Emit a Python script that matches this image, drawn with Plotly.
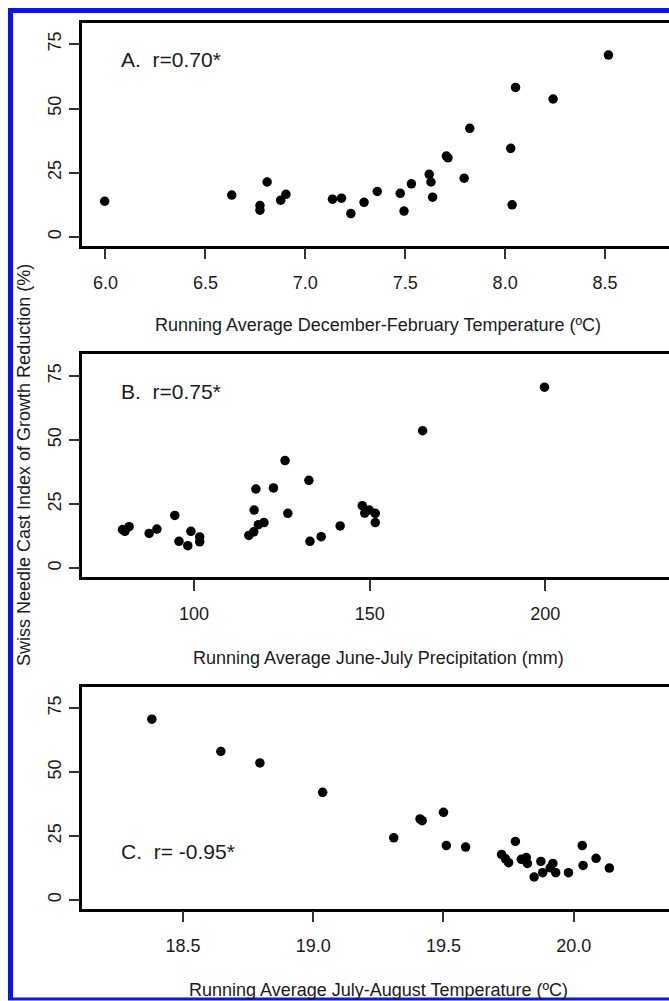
import plotly.graph_objects as go

W, H = 669, 1001

# ---------------- data ----------------
# Panel A: running average December-February temperature (C) vs SNC index (%)
a_temp = [5.996, 6.632, 6.809, 6.773, 6.773, 6.877, 6.903, 7.136, 7.181, 7.228,
          7.294, 7.360, 7.475, 7.494, 7.531, 7.620, 7.629, 7.637, 7.706, 7.714,
          7.795, 7.823, 8.028, 8.035, 8.052, 8.240, 8.517]
a_snc = [13.9, 16.3, 21.4, 12.2, 10.4, 14.3, 16.6, 14.7, 15.1, 9.1,
         13.5, 17.7, 17.0, 10.1, 20.7, 24.4, 21.4, 15.5, 31.5, 30.8,
         22.9, 42.3, 34.5, 12.5, 58.2, 53.7, 70.8]

# Panel B: running average June-July precipitation (mm) vs SNC index (%)
b_prec = [79.6, 80.3, 81.5, 87.2, 89.4, 94.5, 95.7, 98.2, 99.1, 101.6,
          101.6, 115.6, 117.0, 117.1, 117.6, 118.3, 119.9, 122.6, 125.9, 126.7,
          132.7, 133.0, 136.2, 141.6, 147.9, 148.6, 149.9, 151.6, 151.6, 165.1,
          199.8]
b_snc = [15.1, 14.4, 16.2, 13.6, 15.3, 20.6, 10.5, 8.8, 14.4, 12.2,
         10.3, 12.8, 14.2, 22.7, 30.9, 17.0, 17.8, 31.3, 42.0, 21.4,
         34.3, 10.5, 12.3, 16.5, 24.4, 21.5, 22.7, 21.4, 17.8, 53.6,
         70.6]

# Panel C: running average July-August temperature (C) vs SNC index (%)
c_temp = [18.380, 18.645, 18.795, 19.036, 19.309, 19.410, 19.418, 19.500, 19.511, 19.585,
          19.723, 19.738, 19.750, 19.776, 19.799, 19.818, 19.822, 19.848, 19.874, 19.881,
          19.910, 19.920, 19.931, 19.980, 20.033, 20.036, 20.086, 20.137]
c_snc = [70.7, 58.1, 53.6, 42.1, 24.3, 31.7, 31.0, 34.3, 21.3, 20.7,
         17.8, 16.1, 14.6, 22.9, 15.9, 16.6, 14.3, 9.0, 15.1, 10.7,
         12.6, 14.3, 10.7, 10.7, 21.3, 13.5, 16.3, 12.5]

y_ticks = [0, 25, 50, 75]
a_xticks = [6.0, 6.5, 7.0, 7.5, 8.0, 8.5]
a_xticklabels = ["6.0", "6.5", "7.0", "7.5", "8.0", "8.5"]
b_xticks = [100, 150, 200]
b_xticklabels = ["100", "150", "200"]
c_xticks = [18.5, 19.0, 19.5, 20.0]
c_xticklabels = ["18.5", "19.0", "19.5", "20.0"]

panel_labels = ["A.\u00a0 r=0.70*", "B.\u00a0 r=0.75*", "C.\u00a0 r= -0.95*"]
x_titles = ["Running Average December-February Temperature (\u00baC)",
            "Running Average June-July Precipitation (mm)",
            "Running Average July-August Temperature (\u00baC)"]
y_title = "Swiss Needle Cast Index of Growth Reduction (%)"

# ---------------- layout helpers ----------------
FONT = "Liberation Sans, Arial, Helvetica, sans-serif"
TXT = "#1a1a1a"

def px_x(p):
    return p / W

def px_y(p):
    return 1 - p / H

box_left = 82.3
# (top, bottom) pixel rows of each panel box
boxes = [(22.7, 245.7), (354.3, 577.0), (686.7, 908.7)]
x_ranges = [[5.884, 8.820], [68.16, 235.26], [18.113, 20.366]]
y_range = [-3.4, 83.4]

fig = go.Figure()

series = [(a_temp, a_snc), (b_prec, b_snc), (c_temp, c_snc)]
xt = [(a_xticks, a_xticklabels), (b_xticks, b_xticklabels), (c_xticks, c_xticklabels)]

layout = dict(
    width=W, height=H,
    margin=dict(l=0, r=0, t=0, b=0, pad=0),
    paper_bgcolor="white", plot_bgcolor="white",
    showlegend=False,
    font=dict(family=FONT, size=18, color=TXT),
)

annotations = []
for i, ((xs, ys), (tv, tt), (top, bot), xr) in enumerate(zip(series, xt, boxes, x_ranges)):
    n = "" if i == 0 else str(i + 1)
    fig.add_trace(go.Scatter(
        x=xs, y=ys, mode="markers",
        marker=dict(size=9.5, color="black", line=dict(width=0)),
        xaxis="x" + n, yaxis="y" + n, hoverinfo="x+y"))
    layout["xaxis" + n] = dict(
        domain=[px_x(box_left), 1.0], anchor="y" + n, range=xr,
        tickvals=tv, ticktext=tt, ticks="outside", ticklen=11, tickwidth=1.5,
        tickcolor="#333333", showline=True, linecolor="black", linewidth=2.5,
        mirror=True, showgrid=False, zeroline=False, automargin=False,
        tickfont=dict(family=FONT, size=18, color=TXT), ticklabelstandoff=8)
    layout["yaxis" + n] = dict(
        domain=[px_y(bot), px_y(top)], anchor="x" + n, range=y_range,
        tickvals=y_ticks, ticktext=[str(v) for v in y_ticks], ticks="outside",
        ticklen=11, tickwidth=1.5, tickcolor="#333333", tickangle=-90,
        showline=True, linecolor="black", linewidth=2.5, mirror=False,
        showgrid=False, zeroline=False, automargin=False,
        tickfont=dict(family=FONT, size=18, color=TXT), ticklabelstandoff=0)
    # panel label
    lab_y = [59.3, 391.7, 851.7][i]
    annotations.append(dict(
        x=px_x(119), y=px_y(lab_y), xref="paper", yref="paper",
        text=panel_labels[i], showarrow=False, xanchor="left", yanchor="middle",
        font=dict(family=FONT, size=21, color=TXT)))
    # x-axis title
    t_y = [325.0, 658.3, 990.0][i]
    annotations.append(dict(
        x=px_x(378.3), y=px_y(t_y), xref="paper", yref="paper",
        text=x_titles[i], showarrow=False, xanchor="center", yanchor="middle",
        font=dict(family=FONT, size=18, color=TXT)))

annotations.append(dict(
    x=px_x(24), y=px_y(465), xref="paper", yref="paper", text=y_title,
    textangle=-90, showarrow=False, xanchor="center", yanchor="middle",
    font=dict(family=FONT, size=18, color=TXT)))

BLUE = "#0a14f0"
shapes = [
    dict(type="line", xref="paper", yref="paper", x0=px_x(10.5), x1=px_x(10.5),
         y0=px_y(8), y1=px_y(1000), line=dict(color=BLUE, width=5)),
    dict(type="line", xref="paper", yref="paper", x0=px_x(8), x1=1.0,
         y0=px_y(10.5), y1=px_y(10.5), line=dict(color=BLUE, width=5)),
    dict(type="line", xref="paper", yref="paper", x0=px_x(8), x1=1.0,
         y0=px_y(999), y1=px_y(999), line=dict(color=BLUE, width=3)),
]

layout["annotations"] = annotations
layout["shapes"] = shapes
fig.update_layout(**layout)

fig.write_html("out.html")
